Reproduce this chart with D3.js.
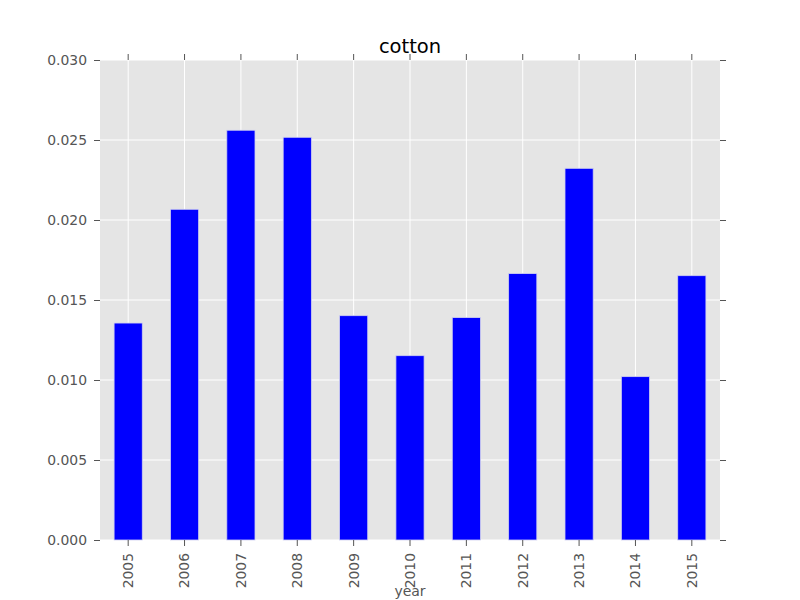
<!DOCTYPE html>
<html>
<head>
<meta charset="utf-8">
<script src="https://cdn.jsdelivr.net/npm/d3@7"></script>
<style>
  body { margin: 0; background: #fff; }
  svg { display: block; font-family: "DejaVu Sans", sans-serif; }
</style>
</head>
<body>
<div id="chart"></div>
<script>
// values
let years = ['2005', '2006', '2007', '2008', '2009', '2010', '2011', '2012', '2013', '2014', '2015'];
let cotton = [0.01356, 0.02067, 0.02561, 0.02517, 0.01402, 0.01152, 0.01390, 0.01665, 0.02323, 0.01021, 0.01652];
let yTicks = [0, 0.005, 0.010, 0.015, 0.020, 0.025, 0.030];

let width = 800, height = 600;
let margin = {top: 60, right: 80, bottom: 60, left: 100};
let w = width - margin.left - margin.right,
    h = height - margin.top - margin.bottom;

let svg = d3.select('#chart').append('svg')
    .attr('width', width)
    .attr('height', height);

let g = svg.append('g')
    .attr('transform', `translate(${margin.left},${margin.top})`);

// scales
let x = d3.scaleBand()
    .domain(years)
    .range([0, w])
    .paddingInner(0.5)
    .paddingOuter(0.25);

let y = d3.scaleLinear()
    .domain([0, 0.03])
    .range([h, 0]);

// grey panel
g.append('rect')
    .attr('width', w)
    .attr('height', h)
    .attr('fill', '#E5E5E5');

// grid lines
g.append('g').selectAll('line')
    .data(yTicks)
    .join('line')
    .attr('x1', 0).attr('x2', w)
    .attr('y1', d => y(d)).attr('y2', d => y(d))
    .attr('stroke', '#fff');

g.append('g').selectAll('line')
    .data(years)
    .join('line')
    .attr('x1', d => x(d) + x.bandwidth() / 2)
    .attr('x2', d => x(d) + x.bandwidth() / 2)
    .attr('y1', 0).attr('y2', h)
    .attr('stroke', '#fff');

// bars
g.append('g').selectAll('rect')
    .data(cotton)
    .join('rect')
    .attr('x', (d, i) => x(years[i]))
    .attr('y', d => y(d))
    .attr('width', x.bandwidth())
    .attr('height', d => h - y(d))
    .attr('fill', '#0000FF')
    .attr('stroke', '#D0D0F0')
    .attr('stroke-width', 0.8);

// axes
let tickColor = '#555555';

let yAxis = g.append('g')
    .call(d3.axisLeft(y).tickValues(yTicks).tickFormat(d3.format('.3f')).tickSize(6).tickPadding(7));

let yAxisR = g.append('g')
    .attr('transform', `translate(${w},0)`)
    .call(d3.axisRight(y).tickValues(yTicks).tickFormat('').tickSize(6));

let xAxis = g.append('g')
    .attr('transform', `translate(0,${h})`)
    .call(d3.axisBottom(x).tickSize(6).tickPadding(8));

let xAxisT = g.append('g')
    .call(d3.axisTop(x).tickFormat('').tickSize(6));

[yAxis, yAxisR, xAxis, xAxisT].forEach(a => {
    a.select('.domain').remove();
    a.selectAll('.tick line').attr('stroke', tickColor);
    a.selectAll('.tick text')
        .attr('fill', tickColor)
        .style('font-size', '13.9px')
        .style('font-family', '"DejaVu Sans", sans-serif');
});

// rotated year labels
xAxis.selectAll('.tick text')
    .attr('transform', 'rotate(-90)')
    .attr('text-anchor', 'end')
    .attr('x', -13)
    .attr('y', 0)
    .attr('dy', '0.35em');

// title
svg.append('text')
    .attr('x', margin.left + w / 2)
    .attr('y', 53)
    .attr('text-anchor', 'middle')
    .style('font-size', '19.5px')
    .attr('fill', '#000')
    .text('cotton');

// x label, sitting at the bottom edge as in the reference
svg.append('text')
    .attr('x', margin.left + w / 2)
    .attr('y', 596)
    .attr('text-anchor', 'middle')
    .style('font-size', '14px')
    .attr('fill', tickColor)
    .text('year');
</script>
</body>
</html>
